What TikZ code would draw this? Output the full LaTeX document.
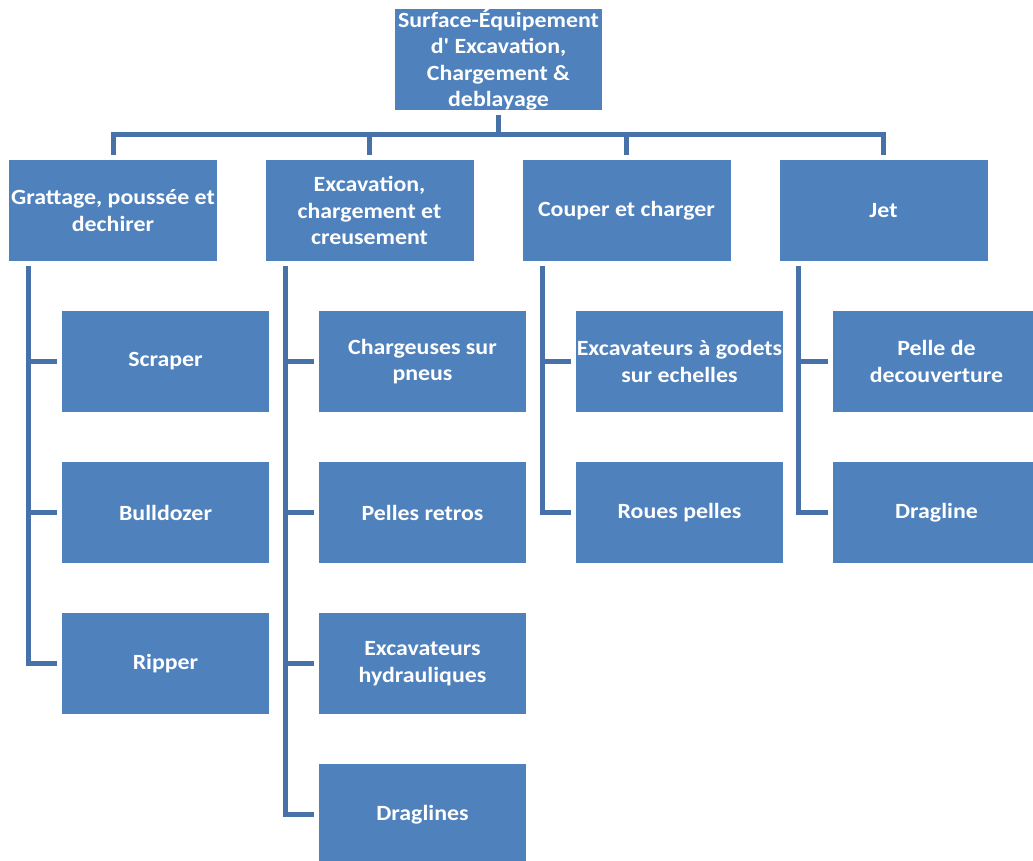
\documentclass[tikz,border=0pt]{standalone}
\usepackage{fontspec}
\setmainfont{Carlito}[FakeStretch=1.1,Ligatures=TeXOff]
\definecolor{boxblue}{HTML}{4F81BD}
\definecolor{linkblue}{HTML}{4672A9}
\begin{document}
\begin{tikzpicture}[x=1pt,y=-1pt,
  box/.style={fill=boxblue,draw=none,inner sep=0pt,minimum width=207pt,minimum height=101pt,
    align=center,text=white,font=\fontsize{21.7}{26.5}\selectfont\bfseries},
  link/.style={draw=linkblue,line width=5pt}]
\useasboundingbox (0,0) rectangle (1033,861);
\clip (0,0) rectangle (1033,861);

% root
\node[box] (top) at (498.5,59.5) {Surface-Équipement\\d' Excavation,\\Chargement \&\\deblayage};

% first level
\node[box,minimum width=208pt] (g1) at (113,210.5) {Grattage, poussée et\\dechirer};
\node[box,minimum width=208pt] (g2) at (369.5,210.5) {Excavation,\\chargement et\\creusement};
\node[box,minimum width=208pt] (g3) at (626.5,210.5) {Couper et charger};
\node[box,minimum width=208pt] (g4) at (883.5,210.5) {Jet};

% second level
\node[box] (a1) at (165.5,361.5) {Scraper};
\node[box] (a2) at (165.5,512.5) {Bulldozer};
\node[box] (a3) at (165.5,663.5) {Ripper};

\node[box] (b1) at (422.5,361.5) {Chargeuses sur\\pneus};
\node[box] (b2) at (422.5,512.5) {Pelles retros};
\node[box] (b3) at (422.5,663.5) {Excavateurs\\hydrauliques};
\node[box] (b4) at (422.5,814.5) {Draglines};

\node[box] (c1) at (679.5,361.5) {Excavateurs à godets\\sur echelles};
\node[box] (c2) at (679.5,512.5) {Roues pelles};

\node[box] (d1) at (936.5,361.5) {Pelle de\\decouverture};
\node[box] (d2) at (936.5,512.5) {Dragline};

% bus from the root to the first level
\draw[link] ([yshift=-5pt]top.south) -- ++(0,19) coordinate (bus);
\draw[link] ([yshift=5pt]g1.north) -- (g1.north |- bus) -- (g4.north |- bus) -- ([yshift=5pt]g4.north);
\draw[link] (g2.north |- bus) -- ([yshift=5pt]g2.north);
\draw[link] (g3.north |- bus) -- ([yshift=5pt]g3.north);

% spines of each column
\coordinate (s1) at ([xshift=19.5pt,yshift=-5pt]g1.south west);
\coordinate (s2) at ([xshift=20.5pt,yshift=-5pt]g2.south west);
\coordinate (s3) at ([xshift=20.5pt,yshift=-5pt]g3.south west);
\coordinate (s4) at ([xshift=19.5pt,yshift=-5pt]g4.south west);

\draw[link] (s1) |- ([xshift=-5pt]a3.west);
\draw[link] (s1 |- a1.west) -- ([xshift=-5pt]a1.west);
\draw[link] (s1 |- a2.west) -- ([xshift=-5pt]a2.west);

\draw[link] (s2) |- ([xshift=-5pt]b4.west);
\draw[link] (s2 |- b1.west) -- ([xshift=-5pt]b1.west);
\draw[link] (s2 |- b2.west) -- ([xshift=-5pt]b2.west);
\draw[link] (s2 |- b3.west) -- ([xshift=-5pt]b3.west);

\draw[link] (s3) |- ([xshift=-5pt]c2.west);
\draw[link] (s3 |- c1.west) -- ([xshift=-5pt]c1.west);

\draw[link] (s4) |- ([xshift=-5pt]d2.west);
\draw[link] (s4 |- d1.west) -- ([xshift=-5pt]d1.west);
\end{tikzpicture}
\end{document}
